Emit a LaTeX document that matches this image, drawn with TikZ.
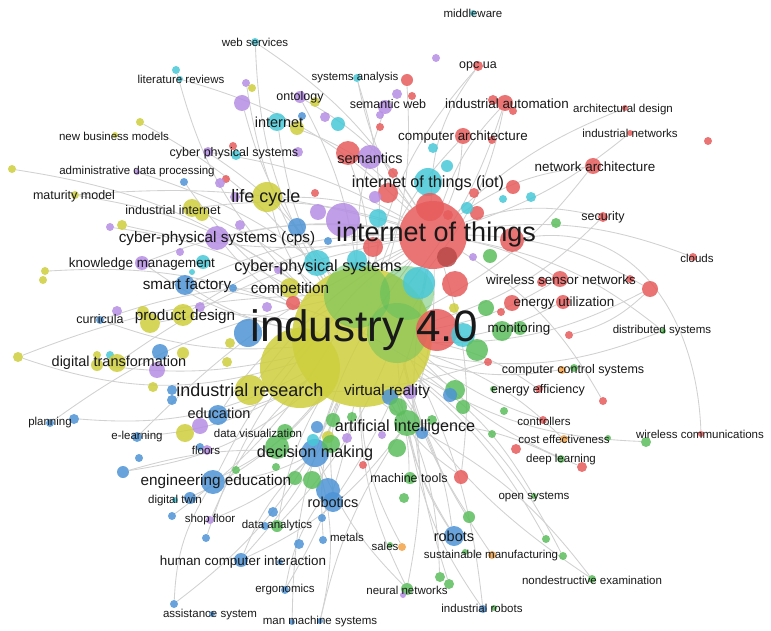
\documentclass[tikz,border=0pt]{standalone}
\usepackage{fontspec}
\setmainfont{Liberation Sans}
\usetikzlibrary{backgrounds}
\definecolor{vred}{RGB}{231,92,92}
\definecolor{vgreen}{RGB}{92,190,92}
\definecolor{vblue}{RGB}{78,148,214}
\definecolor{vyel}{RGB}{206,206,62}
\definecolor{vpur}{RGB}{182,142,228}
\definecolor{vcyan}{RGB}{72,200,216}
\definecolor{vorg}{RGB}{244,164,72}
\definecolor{vtext}{RGB}{25,25,25}
\tikzset{
 bub/.style={circle,inner sep=0pt,draw=none,fill=#1,fill opacity=0.85},
 lnk/.style={draw=black!18,line width=0.85pt},
 lab/.style={inner sep=0pt,text=vtext},
 fa/.style={lab,font=\fontsize{11.5}{12}\selectfont},
 fb/.style={lab,font=\fontsize{12.5}{13}\selectfont},
 fc/.style={lab,font=\fontsize{13.4}{14}\selectfont},
 fd/.style={lab,font=\fontsize{14.5}{15}\selectfont},
 fe/.style={lab,font=\fontsize{15.3}{16}\selectfont},
 ff/.style={lab,font=\fontsize{16.2}{17}\selectfont},
 fg/.style={lab,font=\fontsize{18}{19}\selectfont},
 fh/.style={lab,font=\fontsize{27}{28}\selectfont},
 fi/.style={lab,font=\fontsize{44}{46}\selectfont},
}
\begin{document}
\begin{tikzpicture}[x=1pt,y=-1pt]
\useasboundingbox (0,0) rectangle (771,631);
% ---- big nodes
\node[bub=vyel,minimum size=140pt] (YA) at (362,337) {};
\node[bub=vyel,minimum size=80pt] (YB) at (300,368) {};
\node[bub=vgreen,minimum size=66pt,fill opacity=0.5] (GC) at (357,295) {};
\node[bub=vgreen,minimum size=54pt,fill opacity=0.5] (G2) at (407,293) {};
\node[bub=vgreen,minimum size=60pt,fill opacity=0.45] (G3) at (397,333) {};
\node[bub=vred,minimum size=68pt] (iot) at (433,235) {};
\node[bub=vred,minimum size=42pt] (r4) at (437,330) {};
\node[bub=vcyan,minimum size=32pt] (cy1) at (419,283) {};
\node[bub=vred,minimum size=26pt] (r5) at (455,284) {};
\node[bub=vcyan,minimum size=24pt] (cy2) at (463,335) {};
\node[bub=vpur,minimum size=34pt] (p1) at (343,220) {};
\node[bub=vcyan,minimum size=28pt] (iotc) at (428,182) {};
\node[bub=vred,minimum size=28pt] (r6) at (430,207) {};
\node[bub=vred!80!black,minimum size=20pt] (r7) at (447,257) {};
\node[bub=vyel,minimum size=30pt] (lc) at (267,197) {};
\node[bub=vyel,minimum size=30pt] (ir) at (250,390) {};
\node[bub=vblue,minimum size=28pt] (bb1) at (248,333) {};
\node[bub=vblue,minimum size=28pt] (dm) at (315,453) {};
\node[bub=vgreen,minimum size=26pt] (ai) at (407,423) {};
\node[bub=vcyan,minimum size=26pt] (cpsB) at (317,263) {};
\node[bub=vred,minimum size=24pt] (sem) at (348,153) {};
\node[bub=vpur,minimum size=24pt] (semp) at (370,157) {};
\node[bub=vpur,minimum size=24pt] (cps) at (217,238) {};
\node[bub=vred,minimum size=24pt] (r8) at (512,240) {};
\node[bub=vblue,minimum size=24pt] (ee) at (213,482) {};
\node[bub=vblue,minimum size=24pt] (rob1) at (328,490) {};
\node[bub=vgreen,minimum size=24pt] (g1) at (277,447) {};
\node[bub=vgreen,minimum size=22pt] (g2) at (477,350) {};
\node[bub=vyel,minimum size=22pt] (pd2) at (183,315) {};
% ---- top area
\node[bub=vcyan,minimum size=8pt] (ws) at (255,42) {};
\node[bub=vcyan,minimum size=8pt] (litA) at (176,70) {};
\node[bub=vcyan,minimum size=6pt] (litB) at (180,79) {};
\node[bub=vpur,minimum size=8pt] (p2) at (246,83) {};
\node[bub=vyel,minimum size=8pt] (y2) at (252,88) {};
\node[bub=vcyan,minimum size=8pt] (sa) at (357,78) {};
\node[bub=vpur,minimum size=12pt] (onto) at (300,97) {};
\node[bub=vyel,minimum size=10pt] (y3) at (315,102) {};
\node[bub=vpur,minimum size=16pt] (p3) at (242,103) {};
\node[bub=vcyan,minimum size=18pt] (inet) at (277,122) {};
\node[bub=vyel,minimum size=14pt] (y4) at (297,128) {};
\node[bub=vblue,minimum size=8pt] (b2) at (302,116) {};
\node[bub=vpur,minimum size=10pt] (p4) at (325,117) {};
\node[bub=vcyan,minimum size=14pt] (cy3) at (338,124) {};
\node[bub=vred,minimum size=8pt] (r9) at (380,127) {};
\node[bub=vpur,minimum size=8pt] (p5) at (380,115) {};
\node[bub=vyel,minimum size=8pt] (nbm1) at (140,122) {};
\node[bub=vyel,minimum size=6pt] (nbm2) at (115,135) {};
\node[bub=vpur,minimum size=10pt] (cp1) at (208,152) {};
\node[bub=vcyan,minimum size=10pt] (cp2) at (236,155) {};
\node[bub=vpur,minimum size=10pt] (cp3) at (298,152) {};
\node[bub=vred,minimum size=8pt] (cp4) at (233,146) {};
\node[bub=vyel,minimum size=8pt] (y5) at (12,169) {};
\node[bub=vpur,minimum size=6pt] (adp) at (137,172) {};
\node[bub=vred,minimum size=8pt] (r10) at (226,179) {};
\node[bub=vpur,minimum size=10pt] (p6) at (220,183) {};
\node[bub=vblue,minimum size=8pt] (b3) at (184,182) {};
\node[bub=vred,minimum size=8pt] (r11) at (315,193) {};
\node[bub=vyel,minimum size=8pt] (mat) at (75,195) {};
\node[bub=vpur,minimum size=10pt] (p7) at (235,197) {};
\node[bub=vyel,minimum size=18pt] (ii) at (192,208) {};
\node[bub=vyel,minimum size=14pt] (ii2) at (202,214) {};
\node[bub=vcyan,minimum size=6pt] (mid) at (473,13) {};
\node[bub=vpur,minimum size=8pt] (p8) at (436,58) {};
\node[bub=vred,minimum size=10pt] (opc) at (478,66) {};
\node[bub=vred,minimum size=12pt] (r12) at (407,80) {};
\node[bub=vpur,minimum size=10pt] (p9) at (397,94) {};
\node[bub=vred,minimum size=8pt] (r13) at (412,96) {};
\node[bub=vpur,minimum size=14pt] (semweb) at (385,107) {};
\node[bub=vred,minimum size=16pt] (ia) at (505,103) {};
\node[bub=vred,minimum size=10pt] (ia2) at (493,100) {};
\node[bub=vred,minimum size=8pt] (ia3) at (513,111) {};
\node[bub=vred,minimum size=6pt] (ad) at (625,108) {};
\node[bub=vred,minimum size=6pt] (inw) at (630,133) {};
\node[bub=vred,minimum size=8pt] (r14) at (708,141) {};
\node[bub=vred,minimum size=16pt] (ca) at (463,136) {};
\node[bub=vred,minimum size=8pt] (ca2) at (492,140) {};
\node[bub=vcyan,minimum size=10pt] (cy4) at (433,148) {};
\node[bub=vred,minimum size=10pt] (r15) at (393,173) {};
\node[bub=vcyan,minimum size=12pt] (cy5) at (447,166) {};
\node[bub=vred,minimum size=16pt] (na) at (593,166) {};
\node[bub=vred,minimum size=14pt] (r16) at (513,187) {};
\node[bub=vred,minimum size=10pt] (r17) at (474,193) {};
\node[bub=vcyan,minimum size=10pt] (cy6) at (531,197) {};
\node[bub=vcyan,minimum size=8pt] (cy7) at (503,199) {};
\node[bub=vred,minimum size=20pt] (r18) at (388,193) {};
\node[bub=vpur,minimum size=12pt] (p10) at (375,197) {};
\node[bub=vpur,minimum size=16pt] (p11) at (318,212) {};
\node[bub=vcyan,minimum size=18pt] (cy8) at (378,218) {};
\node[bub=vred,minimum size=14pt] (r19) at (477,213) {};
\node[bub=vcyan,minimum size=12pt] (cy9) at (467,208) {};
\node[bub=vred,minimum size=10pt] (r20) at (448,215) {};
% ---- right
\node[bub=vgreen,minimum size=10pt] (g3) at (556,223) {};
\node[bub=vred,minimum size=10pt] (sec) at (603,217) {};
\node[bub=vred,minimum size=8pt] (clo) at (693,257) {};
\node[bub=vpur,minimum size=8pt] (p12) at (473,257) {};
\node[bub=vgreen,minimum size=14pt] (g4) at (490,256) {};
\node[bub=vred,minimum size=16pt] (wsn) at (560,279) {};
\node[bub=vred,minimum size=10pt] (wsn2) at (542,282) {};
\node[bub=vred,minimum size=8pt] (wsn3) at (630,279) {};
\node[bub=vred,minimum size=16pt] (rr) at (650,289) {};
\node[bub=vred,minimum size=16pt] (eu1) at (512,303) {};
\node[bub=vred,minimum size=14pt] (eu2) at (563,302) {};
\node[bub=vred,minimum size=8pt] (r21) at (501,312) {};
\node[bub=vgreen,minimum size=16pt] (g5) at (486,308) {};
\node[bub=vyel,minimum size=10pt] (y6) at (454,308) {};
\node[bub=vgreen,minimum size=20pt] (mon) at (502,331) {};
\node[bub=vgreen,minimum size=14pt] (mon2) at (520,328) {};
\node[bub=vred,minimum size=8pt] (r22) at (569,335) {};
\node[bub=vgreen,minimum size=6pt] (ds) at (663,331) {};
\node[bub=vred,minimum size=8pt] (r23) at (488,362) {};
\node[bub=vorg,minimum size=8pt] (ccs1) at (562,370) {};
\node[bub=vgreen,minimum size=8pt] (ccs2) at (574,368) {};
\node[bub=vred,minimum size=8pt] (ee1) at (539,389) {};
\node[bub=vgreen,minimum size=6pt] (ee2) at (493,389) {};
\node[bub=vgreen,minimum size=20pt] (g6) at (455,390) {};
\node[bub=vblue,minimum size=14pt] (b4) at (450,395) {};
\node[bub=vred,minimum size=8pt] (r24) at (603,401) {};
\node[bub=vgreen,minimum size=8pt] (g7) at (504,411) {};
% ---- left middle
\node[bub=vpur,minimum size=8pt] (p13) at (110,227) {};
\node[bub=vyel,minimum size=10pt] (y7) at (122,225) {};
\node[bub=vpur,minimum size=10pt] (p14) at (240,225) {};
\node[bub=vblue,minimum size=18pt] (b5) at (297,227) {};
\node[bub=vblue,minimum size=8pt] (b6) at (328,241) {};
\node[bub=vpur,minimum size=8pt] (p15) at (180,252) {};
\node[bub=vpur,minimum size=14pt] (km) at (142,263) {};
\node[bub=vcyan,minimum size=14pt] (cy10) at (203,262) {};
\node[bub=vcyan,minimum size=6pt] (cy11) at (192,272) {};
\node[bub=vyel,minimum size=8pt] (y8) at (45,271) {};
\node[bub=vyel,minimum size=8pt] (y9) at (43,280) {};
\node[bub=vblue,minimum size=20pt] (sf) at (185,285) {};
\node[bub=vblue,minimum size=8pt] (b7) at (233,288) {};
\node[bub=vcyan,minimum size=20pt] (cy12) at (357,260) {};
\node[bub=vred,minimum size=20pt] (r25) at (373,247) {};
\node[bub=vpur,minimum size=8pt] (p16) at (278,270) {};
\node[bub=vyel,minimum size=20pt] (comp) at (290,288) {};
\node[bub=vred,minimum size=14pt] (r26) at (293,303) {};
\node[bub=vblue,minimum size=8pt] (cur) at (100,320) {};
\node[bub=vpur,minimum size=10pt] (p17) at (117,311) {};
\node[bub=vyel,minimum size=20pt] (pd1) at (150,323) {};
\node[bub=vyel,minimum size=12pt] (y10) at (143,312) {};
\node[bub=vpur,minimum size=10pt] (p18) at (200,307) {};
\node[bub=vpur,minimum size=10pt] (p19) at (267,307) {};
\node[bub=vyel,minimum size=10pt] (y11) at (230,343) {};
\node[bub=vyel,minimum size=10pt] (y12) at (227,362) {};
\node[bub=vblue,minimum size=16pt] (b8) at (160,352) {};
\node[bub=vpur,minimum size=16pt] (p20) at (157,370) {};
\node[bub=vyel,minimum size=10pt] (y13) at (18,357) {};
\node[bub=vcyan,minimum size=8pt] (cy13) at (110,355) {};
\node[bub=vyel,minimum size=8pt] (y14) at (97,355) {};
\node[bub=vyel,minimum size=12pt] (dt1) at (97,365) {};
\node[bub=vyel,minimum size=18pt] (dt2) at (117,363) {};
\node[bub=vyel,minimum size=12pt] (y15) at (183,353) {};
\node[bub=vyel,minimum size=10pt] (y16) at (153,387) {};
\node[bub=vblue,minimum size=10pt] (b9) at (172,390) {};
\node[bub=vblue,minimum size=10pt] (b10) at (172,400) {};
% ---- bottom
\node[bub=vblue,minimum size=16pt] (b11) at (390,397) {};
\node[bub=vpur,minimum size=14pt] (p21) at (410,392) {};
\node[bub=vgreen,minimum size=14pt] (g8) at (463,407) {};
\node[bub=vgreen,minimum size=18pt] (g9) at (398,407) {};
\node[bub=vgreen,minimum size=18pt] (g10) at (397,448) {};
\node[bub=vblue,minimum size=12pt] (b12) at (422,433) {};
\node[bub=vgreen,minimum size=10pt] (g11) at (432,420) {};
\node[bub=vgreen,minimum size=8pt] (g12) at (492,434) {};
\node[bub=vgreen,minimum size=14pt] (g13) at (333,420) {};
\node[bub=vgreen,minimum size=10pt] (g14) at (352,417) {};
\node[bub=vblue,minimum size=12pt] (b13) at (317,427) {};
\node[bub=vpur,minimum size=10pt] (p22) at (347,438) {};
\node[bub=vpur,minimum size=8pt] (p23) at (382,435) {};
\node[bub=vred,minimum size=8pt] (r27) at (363,465) {};
\node[bub=vgreen,minimum size=12pt] (mt1) at (410,478) {};
\node[bub=vred,minimum size=14pt] (mt2) at (461,477) {};
\node[bub=vblue,minimum size=20pt] (edu) at (218,415) {};
\node[bub=vyel,minimum size=18pt] (y17) at (185,433) {};
\node[bub=vpur,minimum size=16pt] (p24) at (200,426) {};
\node[bub=vblue,minimum size=8pt] (b14) at (200,447) {};
\node[bub=vpur,minimum size=10pt] (flo) at (207,450) {};
\node[bub=vblue,minimum size=10pt] (el) at (137,437) {};
\node[bub=vblue,minimum size=8pt] (plan1) at (50,423) {};
\node[bub=vblue,minimum size=10pt] (plan2) at (74,419) {};
\node[bub=vblue,minimum size=8pt] (b15) at (139,458) {};
\node[bub=vblue,minimum size=12pt] (b16) at (123,472) {};
\node[bub=vgreen,minimum size=16pt] (g15) at (285,432) {};
\node[bub=vcyan,minimum size=12pt] (cy14) at (313,440) {};
\node[bub=vyel,minimum size=12pt] (y18) at (328,437) {};
\node[bub=vgreen,minimum size=18pt] (g16) at (331,444) {};
\node[bub=vgreen,minimum size=8pt] (g17) at (236,470) {};
\node[bub=vgreen,minimum size=8pt] (g18) at (276,467) {};
\node[bub=vgreen,minimum size=14pt] (g19) at (295,478) {};
\node[bub=vgreen,minimum size=18pt] (g20) at (312,480) {};
\node[bub=vblue,minimum size=20pt] (rob2) at (333,502) {};
\node[bub=vblue,minimum size=12pt] (dtw1) at (190,498) {};
\node[bub=vcyan,minimum size=6pt] (dtw2) at (175,500) {};
\node[bub=vblue,minimum size=8pt] (b17) at (172,516) {};
\node[bub=vpur,minimum size=8pt] (shop) at (210,520) {};
\node[bub=vblue,minimum size=10pt] (b18) at (273,512) {};
\node[bub=vgreen,minimum size=12pt] (da1) at (277,526) {};
\node[bub=vblue,minimum size=8pt] (da2) at (265,526) {};
\node[bub=vblue,minimum size=8pt] (b19) at (322,518) {};
\node[bub=vblue,minimum size=8pt] (met) at (323,540) {};
\node[bub=vblue,minimum size=10pt] (b20) at (299,544) {};
\node[bub=vblue,minimum size=8pt] (b21) at (206,538) {};
\node[bub=vblue,minimum size=14pt] (hci1) at (241,560) {};
\node[bub=vblue,minimum size=6pt] (hci2) at (280,562) {};
\node[bub=vblue,minimum size=8pt] (erg) at (285,590) {};
\node[bub=vblue,minimum size=8pt] (as1) at (174,604) {};
\node[bub=vblue,minimum size=6pt] (as2) at (212,614) {};
\node[bub=vblue,minimum size=6pt] (mm1) at (292,622) {};
\node[bub=vblue,minimum size=6pt] (mm2) at (320,621) {};
\node[bub=vred,minimum size=8pt] (ctrl) at (543,420) {};
\node[bub=vorg,minimum size=8pt] (ce1) at (564,439) {};
\node[bub=vgreen,minimum size=6pt] (ce2) at (608,438) {};
\node[bub=vred,minimum size=10pt] (r28) at (516,449) {};
\node[bub=vgreen,minimum size=8pt] (dl1) at (561,459) {};
\node[bub=vred,minimum size=10pt] (dl2) at (582,467) {};
\node[bub=vred,minimum size=6pt] (wc1) at (701,434) {};
\node[bub=vgreen,minimum size=10pt] (wc2) at (646,442) {};
\node[bub=vgreen,minimum size=10pt] (g21) at (404,498) {};
\node[bub=vgreen,minimum size=6pt] (os) at (534,496) {};
\node[bub=vgreen,minimum size=12pt] (g22) at (469,517) {};
\node[bub=vblue,minimum size=20pt] (robots) at (454,536) {};
\node[bub=vgreen,minimum size=8pt] (g23) at (546,539) {};
\node[bub=vorg,minimum size=8pt] (sal1) at (402,547) {};
\node[bub=vgreen,minimum size=6pt] (sal2) at (390,545) {};
\node[bub=vorg,minimum size=8pt] (sm1) at (492,555) {};
\node[bub=vgreen,minimum size=8pt] (sm2) at (563,556) {};
\node[bub=vgreen,minimum size=6pt] (g24) at (465,552) {};
\node[bub=vgreen,minimum size=10pt] (g25) at (440,577) {};
\node[bub=vgreen,minimum size=10pt] (g26) at (449,584) {};
\node[bub=vgreen,minimum size=8pt] (nde) at (592,579) {};
\node[bub=vgreen,minimum size=12pt] (nn1) at (407,589) {};
\node[bub=vpur,minimum size=6pt] (nn2) at (403,595) {};
\node[bub=vblue,minimum size=8pt] (ir1) at (483,609) {};
\node[bub=vgreen,minimum size=6pt] (ir2) at (494,608) {};
% ---- edges
\begin{pgfonlayer}{background}
\fill[white] (0,0) rectangle (771,631);
\draw[lnk] (ws) to[bend left=12] (iot);
\draw[lnk] (ws) to[bend right=14] (YA);
\draw[lnk] (litA) to[bend right=16] (YA);
\draw[lnk] (litB) to[bend left=14] (iot);
\draw[lnk] (p2) to[bend right=12] (YA);
\draw[lnk] (onto) to[bend left=10] (YA);
\draw[lnk] (onto) to[bend left=14] (iot);
\draw[lnk] (inet) to[bend right=10] (YA);
\draw[lnk] (inet) to[bend left=16] (iot);
\draw[lnk] (p3) to[bend right=14] (GC);
\draw[lnk] (sa) to[bend right=12] (iot);
\draw[lnk] (sa) to[bend left=12] (YA);
\draw[lnk] (opc) to[bend right=18] (iot);
\draw[lnk] (opc) to[bend right=14] (YA);
\draw[lnk] (r12) to[bend left=10] (YA);
\draw[lnk] (ia) to[bend right=12] (iot);
\draw[lnk] (ia) to[bend left=10] (YA);
\draw[lnk] (ia) to[bend left=14] (G2);
\draw[lnk] (ca) to[bend left=10] (iot);
\draw[lnk] (ca) to[bend right=12] (YA);
\draw[lnk] (na) to[bend right=14] (iot);
\draw[lnk] (na) to[bend left=12] (YA);
\draw[lnk] (ad) to[bend right=10] (iot);
\draw[lnk] (inw) to[bend left=10] (iot);
\draw[lnk] (sec) to[bend right=16] (iot);
\draw[lnk] (sec) to[bend left=14] (YA);
\draw[lnk] (clo) to[bend right=14] (iot);
\draw[lnk] (wsn) to[bend left=10] (YA);
\draw[lnk] (wsn) to[bend right=10] (iot);
\draw[lnk] (rr) to[bend left=14] (YA);
\draw[lnk] (rr) to[bend right=14] (iot);
\draw[lnk] (r8) to[out=10,in=92,looseness=1.1] (wc1);
\draw[lnk] (r22) to[bend right=14] (rr);
\draw[lnk] (eu2) to[bend left=12] (YA);
\draw[lnk] (ds) to[bend left=16] (YA);
\draw[lnk] (ds) to[bend right=14] (iot);
\draw[lnk] (ccs1) to[bend left=12] (YA);
\draw[lnk] (ee1) to[bend right=12] (YA);
\draw[lnk] (ctrl) to[bend left=10] (G3);
\draw[lnk] (ce1) to[bend right=12] (YA);
\draw[lnk] (dl2) to[bend left=12] (G3);
\draw[lnk] (dl1) to[bend right=12] (ai);
\draw[lnk] (wc2) to[bend left=14] (YA);
\draw[lnk] (os) to[bend right=12] (YA);
\draw[lnk] (r24) to[bend right=14] (iot);
\draw[lnk] (mat) to[bend left=14] (YA);
\draw[lnk] (mat) to[bend left=10] (iot);
\draw[lnk] (nbm1) to[bend left=12] (YA);
\draw[lnk] (y5) to[bend left=14] (YA);
\draw[lnk] (adp) to[bend left=10] (GC);
\draw[lnk] (ii) to[bend left=10] (YA);
\draw[lnk] (ii) to[bend left=12] (iot);
\draw[lnk] (lc) to[bend right=12] (YA);
\draw[lnk] (lc) to[bend left=12] (iot);
\draw[lnk] (cps) to[bend left=10] (iot);
\draw[lnk] (cps) to[bend right=10] (YA);
\draw[lnk] (km) to[bend right=12] (YA);
\draw[lnk] (km) to[bend left=14] (iot);
\draw[lnk] (sf) to[bend right=10] (YA);
\draw[lnk] (sf) to[bend left=12] (iot);
\draw[lnk] (cur) to[bend right=12] (YA);
\draw[lnk] (cur) to[bend left=12] (GC);
\draw[lnk] (pd1) to[bend left=10] (YA);
\draw[lnk] (pd2) to[bend left=14] (iot);
\draw[lnk] (y13) to[bend right=18] (YA);
\draw[lnk] (y13) to[bend left=10] (GC);
\draw[lnk] (dt1) to[bend right=10] (YA);
\draw[lnk] (dt2) to[bend left=12] (iot);
\draw[lnk] (y8) to[bend left=12] (YA);
\draw[lnk] (ir) to[bend left=12] (iot);
\draw[lnk] (edu) to[bend right=10] (YA);
\draw[lnk] (edu) to[bend left=14] (GC);
\draw[lnk] (el) to[bend right=14] (YA);
\draw[lnk] (plan2) to[bend right=16] (YA);
\draw[lnk] (plan1) to[bend left=12] (GC);
\draw[lnk] (b16) to[bend right=16] (YA);
\draw[lnk] (b16) to[bend left=10] (dm);
\draw[lnk] (ee) to[bend right=12] (YA);
\draw[lnk] (ee) to[bend left=10] (GC);
\draw[lnk] (ee) to[bend right=10] (dm);
\draw[lnk] (dtw1) to[bend right=12] (YA);
\draw[lnk] (shop) to[bend right=10] (dm);
\draw[lnk] (shop) to[bend left=12] (YA);
\draw[lnk] (da1) to[bend left=10] (YA);
\draw[lnk] (da1) to[bend right=10] (G3);
\draw[lnk] (met) to[bend left=10] (YA);
\draw[lnk] (hci1) to[bend right=10] (YA);
\draw[lnk] (hci1) to[bend left=12] (dm);
\draw[lnk] (hci1) to[bend right=14] (ai);
\draw[lnk] (erg) to[bend right=10] (YA);
\draw[lnk] (erg) to[bend left=12] (rob1);
\draw[lnk] (as1) to[bend left=14] (ee);
\draw[lnk] (as1) to[bend right=14] (YA);
\draw[lnk] (mm1) to[bend left=10] (YA);
\draw[lnk] (mm2) to[bend right=14] (dm);
\draw[lnk] (mm2) to[bend left=10] (ai);
\draw[lnk] (rob2) to[bend left=10] (YA);
\draw[lnk] (rob2) to[bend right=12] (iot);
\draw[lnk] (robots) to[bend right=12] (YA);
\draw[lnk] (robots) to[bend left=14] (G3);
\draw[lnk] (robots) to[bend left=10] (ai);
\draw[lnk] (nn1) to[bend left=12] (YA);
\draw[lnk] (nn1) to[bend right=12] (G3);
\draw[lnk] (nn1) to[bend left=10] (dm);
\draw[lnk] (ir1) to[bend right=10] (G3);
\draw[lnk] (ir1) to[bend left=12] (ai);
\draw[lnk] (nde) to[bend right=12] (ai);
\draw[lnk] (nde) to[bend left=10] (YA);
\draw[lnk] (sm2) to[bend right=12] (YA);
\draw[lnk] (sm1) to[bend left=10] (G3);
\draw[lnk] (sal1) to[bend left=12] (YA);
\draw[lnk] (mt1) to[bend right=10] (YA);
\draw[lnk] (mt2) to[bend left=12] (YA);
\draw[lnk] (mt2) to[bend right=12] (iot);
\draw[lnk] (g22) to[bend left=10] (G3);
\draw[lnk] (g25) to[bend right=12] (YA);
\draw[lnk] (g26) to[bend left=14] (iot);
\draw[lnk] (g23) to[bend right=10] (YA);
\draw[lnk] (dm) to[bend left=10] (iot);
\draw[lnk] (ai) to[bend right=10] (iot);
\draw[lnk] (ai) to[bend left=10] (YA);
\draw[lnk] (YA) to[bend left=10] (iot);
\draw[lnk] (YB) to[bend left=12] (iot);
\draw[lnk] (G3) to[bend right=12] (iot);
\draw[lnk] (GC) to[bend right=10] (iot);
\draw[lnk] (sem) to[bend left=10] (YA);
\draw[lnk] (semweb) to[bend right=10] (YA);
\draw[lnk] (cp1) to[bend left=12] (YA);
\draw[lnk] (cp1) to[bend left=10] (iot);
\draw[lnk] (b3) to[bend right=10] (YA);
\draw[lnk] (p13) to[bend left=12] (YA);
\draw[lnk] (y7) to[bend right=10] (iot);
\draw[lnk] (el) to[bend left=10] (iot);
\draw[lnk] (b21) to[bend left=12] (GC);
\draw[lnk] (b17) to[bend right=12] (GC);
\draw[lnk] (g6) to[bend right=14] (sf);
\draw[lnk] (r23) to[bend left=10] (ir);
\end{pgfonlayer}
% ---- labels
\node[fa] (t1) at (255,42) {web services};
\node[fa] (t2) at (473,13) {middleware};
\node[fb] (t3) at (478,66) {opc ua};
\node[fa] (t4) at (181,79) {literature reviews};
\node[fa] (t5) at (355,78) {systems analysis};
\node[fb] (t6) at (300,97) {ontology};
\node[fb] (t7) at (388,104) {semantic web};
\node[fc] (t8) at (507,104) {industrial automation};
\node[fa] (t9) at (623,110) {architectural design};
\node[fd] (t10) at (279,122) {internet};
\node[fa] (t11) at (114,136) {new business models};
\node[fc] (t12) at (463,137) {computer architecture};
\node[fa] (t13) at (630,133) {industrial networks};
\node[fb] (t14) at (234,153) {cyber physical systems};
\node[fd] (t15) at (370,158) {semantics};
\node[fc] (t16) at (595,167) {network architecture};
\node[fa] (t17) at (137,172) {administrative data processing};
\node[ff] (t18) at (428,183) {internet of things (iot)};
\node[fb] (t19) at (74,196) {maturity model};
\node[fg] (t20) at (266,198) {life cycle};
\node[fb] (t21) at (173,210) {industrial internet};
\node[fb] (t22) at (603,217) {security};
\node[fh] (t23) at (436,235) {internet of things};
\node[fe] (t24) at (217,239) {cyber-physical systems (cps)};
\node[fa] (t25) at (697,258) {clouds};
\node[fc] (t26) at (142,264) {knowledge management};
\node[ff] (t27) at (318,267) {cyber-physical systems};
\node[fc] (t28) at (561,280) {wireless sensor networks};
\node[fe] (t29) at (187,286) {smart factory};
\node[fe] (t30) at (290,290) {competition};
\node[fc] (t31) at (564,303) {energy utilization};
\node[fb] (t32) at (100,319) {curricula};
\node[fe] (t33) at (185,317) {product design};
\node[fi] (t34) at (364,330) {industry 4.0};
\node[fc] (t35) at (519,329) {monitoring};
\node[fa] (t36) at (662,331) {distributed systems};
\node[fd] (t37) at (119,363) {digital transformation};
\node[fb] (t38) at (573,370) {computer control systems};
\node[fg] (t39) at (250,390) {industrial research};
\node[fe] (t40) at (387,392) {virtual reality};
\node[fb] (t41) at (538,390) {energy efficiency};
\node[fd] (t42) at (219,413) {education};
\node[fa] (t43) at (544,421) {controllers};
\node[fa] (t44) at (50,423) {planning};
\node[ff] (t45) at (405,427) {artificial intelligence};
\node[fa] (t46) at (700,434) {wireless communications};
\node[fa] (t47) at (258,433) {data visualization};
\node[fa] (t48) at (137,437) {e-learning};
\node[fa] (t49) at (564,439) {cost effectiveness};
\node[fa] (t50) at (206,450) {floors};
\node[ff] (t51) at (315,453) {decision making};
\node[fa] (t52) at (561,460) {deep learning};
\node[fb] (t53) at (409,478) {machine tools};
\node[fe] (t54) at (216,482) {engineering education};
\node[fa] (t55) at (175,501) {digital twin};
\node[fa] (t56) at (534,497) {open systems};
\node[fd] (t57) at (333,502) {robotics};
\node[fa] (t58) at (210,520) {shop floor};
\node[fa] (t59) at (277,526) {data analytics};
\node[fa] (t60) at (347,537) {metals};
\node[fd] (t61) at (454,536) {robots};
\node[fa] (t62) at (385,546) {sales};
\node[fa] (t63) at (491,556) {sustainable manufacturing};
\node[fc] (t64) at (243,562) {human computer interaction};
\node[fa] (t65) at (592,580) {nondestructive examination};
\node[fa] (t66) at (285,590) {ergonomics};
\node[fa] (t67) at (407,590) {neural networks};
\node[fa] (t68) at (482,608) {industrial robots};
\node[fa] (t69) at (210,615) {assistance system};
\node[fa] (t70) at (320,622) {man machine systems};
\end{tikzpicture}
\end{document}
